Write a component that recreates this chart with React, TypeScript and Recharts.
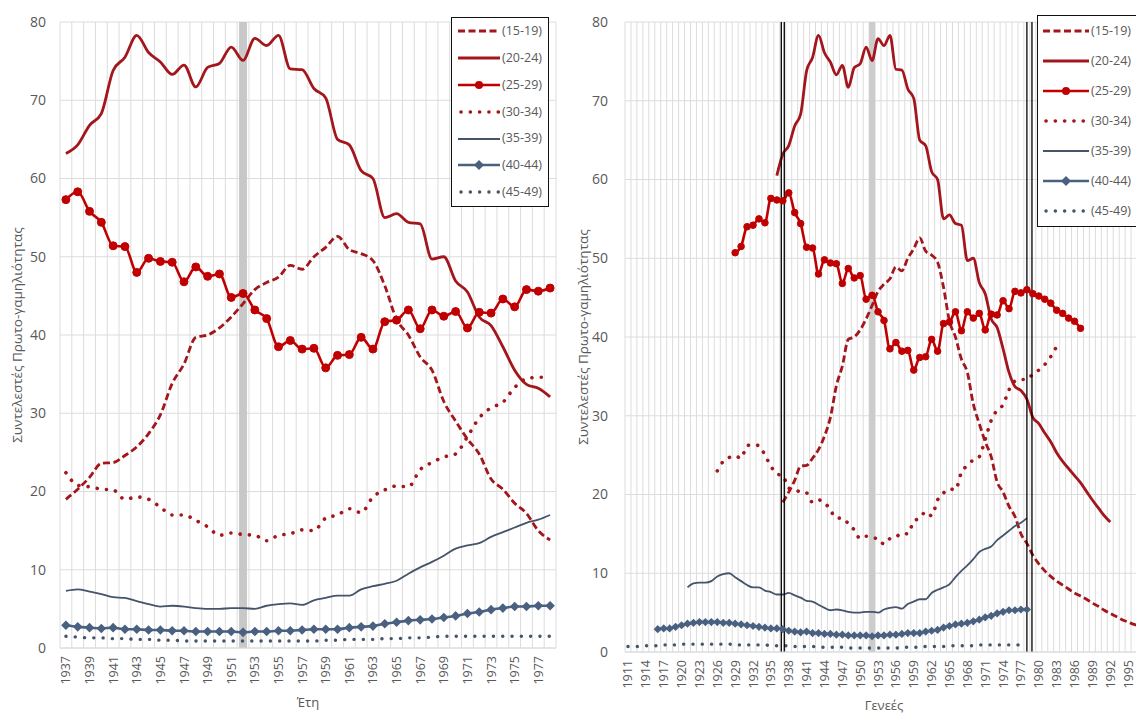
import { CartesianGrid, Legend, Line, LineChart, ReferenceLine, XAxis, YAxis } from "recharts";

// ---- left panel: calendar years 1937-1978 ----
const YEARS = Array.from({ length: 42 }, (_, i) => 1937 + i);
const LEFT_TICKS = [1937, 1939, 1941, 1943, 1945, 1947, 1949, 1951, 1953, 1955, 1957, 1959, 1961, 1963, 1965, 1967, 1969, 1971, 1973, 1975, 1977];
const Y_TICKS = [0, 10, 20, 30, 40, 50, 60, 70, 80];

const L15_19 = [19.0, 20.3, 21.8, 23.6, 23.7, 24.6, 25.7, 27.4, 29.8, 33.8, 36.3, 39.7, 40.0, 40.9, 42.3, 44.0, 45.8, 46.7, 47.4, 48.9, 48.4, 50.0, 51.2, 52.6, 50.9, 50.4, 49.5, 46.3, 42.0, 40.0, 37.2, 35.5, 31.5, 29.0, 26.7, 24.8, 21.6, 20.3, 18.5, 17.2, 15.0, 13.8];
const L20_24 = [63.2, 64.3, 66.8, 68.3, 73.8, 75.5, 78.3, 76.1, 74.9, 73.3, 74.5, 71.7, 74.2, 74.7, 76.8, 75.1, 77.9, 77.0, 78.3, 74.0, 73.9, 71.5, 70.3, 65.0, 64.3, 61.0, 60.0, 55.0, 55.5, 54.4, 54.2, 49.7, 50.0, 46.9, 45.5, 42.3, 41.2, 38.5, 35.5, 33.7, 33.2, 32.1];
const L25_29 = [57.3, 58.3, 55.8, 54.4, 51.4, 51.3, 48.0, 49.8, 49.4, 49.3, 46.8, 48.7, 47.5, 47.8, 44.8, 45.3, 43.2, 42.1, 38.5, 39.3, 38.2, 38.3, 35.8, 37.4, 37.5, 39.7, 38.2, 41.7, 41.9, 43.2, 40.8, 43.2, 42.4, 43.0, 40.9, 42.9, 42.8, 44.6, 43.6, 45.8, 45.6, 46.0];
const L30_34 = [22.4, 20.8, 20.6, 20.3, 20.2, 19.0, 19.3, 19.0, 18.0, 17.0, 17.0, 16.3, 15.5, 14.4, 14.7, 14.5, 14.4, 13.7, 14.4, 14.6, 15.1, 15.0, 16.6, 17.0, 17.8, 17.3, 19.3, 20.2, 20.7, 20.6, 22.8, 23.7, 24.4, 24.8, 27.0, 29.4, 30.7, 31.4, 33.3, 34.4, 34.6, 34.6];
const L35_39 = [7.3, 7.5, 7.2, 6.9, 6.5, 6.4, 6.0, 5.6, 5.3, 5.4, 5.3, 5.1, 5.0, 5.0, 5.1, 5.1, 5.0, 5.4, 5.6, 5.7, 5.5, 6.1, 6.4, 6.7, 6.7, 7.5, 7.9, 8.2, 8.6, 9.5, 10.3, 11.0, 11.8, 12.7, 13.1, 13.4, 14.2, 14.8, 15.4, 16.0, 16.4, 17.0];
const L40_44 = [2.9, 2.7, 2.6, 2.5, 2.6, 2.4, 2.4, 2.3, 2.3, 2.2, 2.2, 2.1, 2.1, 2.1, 2.1, 2.0, 2.1, 2.1, 2.2, 2.2, 2.3, 2.4, 2.4, 2.4, 2.6, 2.7, 2.8, 3.1, 3.3, 3.5, 3.6, 3.7, 3.9, 4.1, 4.4, 4.6, 4.9, 5.1, 5.3, 5.3, 5.4, 5.4];
const L45_49 = [1.5, 1.4, 1.3, 1.3, 1.2, 1.2, 1.1, 1.1, 1.0, 1.0, 0.9, 0.9, 0.9, 0.9, 0.9, 0.9, 0.9, 0.9, 0.9, 0.9, 0.9, 0.9, 1.0, 1.0, 1.1, 1.1, 1.1, 1.2, 1.2, 1.3, 1.3, 1.4, 1.5, 1.5, 1.5, 1.5, 1.5, 1.5, 1.5, 1.5, 1.5, 1.5];

// ---- right panel: cohorts 1911-1997 (1937-1978 shared with the left panel) ----
const COHORTS = Array.from({ length: 87 }, (_, i) => 1911 + i);
const RIGHT_TICKS = [1911, 1914, 1917, 1920, 1923, 1926, 1929, 1932, 1935, 1938, 1941, 1944, 1947, 1950, 1953, 1956, 1959, 1962, 1965, 1968, 1971, 1974, 1977, 1980, 1983, 1986, 1989, 1992, 1995];

const C15_19_AFTER = [12.3, 11.2, 10.3, 9.6, 9.0, 8.5, 8.0, 7.5, 7.1, 6.7, 6.2, 5.8, 5.3, 4.9, 4.5, 4.1, 3.8, 3.5, 3.3]; // 1979-
const C20_24_BEFORE = [60.5]; // 1936
const C20_24_AFTER = [29.8, 29.0, 27.8, 26.7, 25.3, 24.2, 23.3, 22.4, 21.5, 20.4, 19.3, 18.3, 17.3, 16.5]; // 1979-1992
const C25_29_BEFORE = [50.7, 51.5, 54.0, 54.2, 55.0, 54.5, 57.6, 57.4]; // 1929-1936
const C25_29_AFTER = [45.5, 45.2, 44.8, 44.3, 43.4, 43.0, 42.4, 42.0, 41.1]; // 1979-1987
const C30_34_BEFORE = [23.0, 24.2, 24.7, 24.9, 24.6, 26.2, 26.3, 26.2, 25.0, 23.6, 22.6]; // 1926-1936
const C30_34_AFTER = [35.3, 35.8, 36.5, 37.5, 38.8]; // 1979-1983
const C35_39_BEFORE = [8.2, 8.7, 8.8, 8.8, 9.0, 9.6, 9.9, 10.0, 9.5, 9.0, 8.5, 8.2, 8.2, 7.8, 7.6, 7.3]; // 1921-1936
const C40_44_BEFORE = [2.9, 3.0, 3.0, 3.2, 3.4, 3.6, 3.7, 3.8, 3.8, 3.8, 3.8, 3.7, 3.7, 3.6, 3.5, 3.4, 3.3, 3.2, 3.1, 3.0, 3.0]; // 1916-1936
const C45_49 = [0.7, 0.7, 0.7, 0.8, 0.8, 0.8, 0.9, 0.9, 0.9, 1.0, 1.0, 1.0, 1.0, 1.0, 1.0, 1.0, 1.0, 1.0, 0.9, 0.9, 0.9, 0.9, 0.9, 0.9, 0.8, 0.8, 0.8, 0.8, 0.7, 0.7, 0.7, 0.7, 0.6, 0.6, 0.6, 0.6, 0.6, 0.5, 0.5, 0.5, 0.5, 0.5, 0.5, 0.5, 0.5, 0.5, 0.6, 0.6, 0.6, 0.6, 0.7, 0.7, 0.7, 0.7, 0.8, 0.8, 0.8, 0.8, 0.8, 0.9, 0.9, 0.9, 0.9, 0.9, 0.9, 0.9, 0.9]; // 1911-1977

// double marker lines on the cohort panel
const MARK_LINES = [1936.75, 1937.25, 1978.0, 1978.85];

const FONT = "'Open Sans', 'Liberation Sans', sans-serif";
const TEXT = "#595959";
const GRID = "#dcdcdc";
const RED = "#a3161c";
const RED_MARK = "#c00000";
const SLATE = "#44546a";
const SLATE_MARK = "#4a6080";

const SERIES = [
  { key: "a15", name: "(15-19)", color: RED, width: 2.8, dash: "7 3.5" },
  { key: "a20", name: "(20-24)", color: RED, width: 2.8 },
  { key: "a25", name: "(25-29)", color: RED_MARK, width: 2.6, marker: "circle" },
  { key: "a30", name: "(30-34)", color: RED, width: 3.6, dash: "0.1 9.2", cap: "round" },
  { key: "a35", name: "(35-39)", color: SLATE, width: 1.8 },
  { key: "a40", name: "(40-44)", color: SLATE_MARK, width: 2.6, marker: "diamond" },
  { key: "a45", name: "(45-49)", color: SLATE, width: 3.4, dash: "0.1 9.2", cap: "round" },
];

const leftRows = YEARS.map((year, i) => ({
  year,
  a15: L15_19[i],
  a20: L20_24[i],
  a25: L25_29[i],
  a30: L30_34[i],
  a35: L35_39[i],
  a40: L40_44[i],
  a45: L45_49[i],
}));

function pick(year: number, start: number, arr: number[]) {
  const i = year - start;
  return i >= 0 && i < arr.length ? arr[i] : undefined;
}

function joined(year: number, before: number[], beforeStart: number, main: number[], after: number[]) {
  return pick(year, beforeStart, before) ?? pick(year, 1937, main) ?? pick(year, 1979, after) ?? null;
}

const rightRows = COHORTS.map((year) => ({
  year,
  a15: joined(year, [], 1937, L15_19, C15_19_AFTER),
  a20: joined(year, C20_24_BEFORE, 1936, L20_24, C20_24_AFTER),
  a25: joined(year, C25_29_BEFORE, 1929, L25_29, C25_29_AFTER),
  a30: joined(year, C30_34_BEFORE, 1926, L30_34, C30_34_AFTER),
  a35: joined(year, C35_39_BEFORE, 1921, L35_39, []),
  a40: joined(year, C40_44_BEFORE, 1916, L40_44, []),
  a45: pick(year, 1911, C45_49) ?? null,
}));

const LEFT_GRID = Array.from({ length: 43 }, (_, i) => 1936.5 + i);
const RIGHT_GRID = Array.from({ length: 88 }, (_, i) => 1910.5 + i);

function makeDot(kind: string | undefined, color: string, size: number) {
  if (!kind) return false;
  return (p: any) => {
    const { cx, cy, index } = p;
    if (cx == null || cy == null) return <g key={index} />;
    if (kind === "circle") return <circle key={index} cx={cx} cy={cy} r={size} fill={color} stroke={color} />;
    return (
      <path
        key={index}
        d={`M${cx},${cy - size}L${cx + size},${cy}L${cx},${cy + size}L${cx - size},${cy}Z`}
        fill={color}
      />
    );
  };
}

const YearTick = ({ x, y, payload }: any) => (
  <text
    transform={`translate(${x},${y}) rotate(-90)`}
    textAnchor="end"
    dominantBaseline="central"
    fontSize={12.5}
    fontFamily={FONT}
    fill={TEXT}
  >
    {payload.value}
  </text>
);

function LegendBox({ rowH, sample, left }: { rowH: number; sample: number; left: number }) {
  return (
    <div
      style={{
        border: "1.6px solid #111",
        background: "#fff",
        paddingLeft: left,
        paddingRight: 6,
        fontFamily: FONT,
        fontSize: 12.5,
        color: TEXT,
        lineHeight: 1,
      }}
    >
      {SERIES.map((s) => (
        <div key={s.key} style={{ display: "flex", alignItems: "center", height: rowH }}>
          <svg width={sample} height={12} style={{ display: "block" }}>
            <line
              x1={s.cap ? 3 : 0}
              y1={6}
              x2={sample}
              y2={6}
              stroke={s.color}
              strokeWidth={s.width}
              strokeDasharray={s.dash}
              strokeLinecap={(s.cap as any) || "butt"}
            />
            {s.marker === "circle" && <circle cx={sample / 2} cy={6} r={4} fill={s.color} />}
            {s.marker === "diamond" && (
              <path d={`M${sample / 2},1L${sample / 2 + 5},6L${sample / 2},11L${sample / 2 - 5},6Z`} fill={s.color} />
            )}
          </svg>
          <span style={{ marginLeft: 2, whiteSpace: "nowrap" }}>{s.name}</span>
        </div>
      ))}
    </div>
  );
}

const Y_LABEL = "Συντελεστές Πρωτο-γαμηλιότητας";

function renderLines(markerSize: number) {
  return SERIES.map((s) => (
    <Line
      key={s.key}
      type="monotone"
      dataKey={s.key}
      name={s.name}
      stroke={s.color}
      strokeWidth={s.width}
      strokeDasharray={s.dash}
      strokeLinecap={(s.cap as any) || "butt"}
      dot={makeDot(s.marker, s.color, s.marker === "diamond" ? markerSize + 0.8 : markerSize) as any}
      activeDot={false}
      isAnimationActive={false}
      legendType="none"
    />
  ));
}

function LeftChart() {
  return (
    <LineChart width={570} height={713} data={leftRows} margin={{ top: 22, right: 14, left: 8, bottom: 0 }}>
      <CartesianGrid stroke={GRID} verticalValues={LEFT_GRID} horizontalValues={Y_TICKS} />
      <ReferenceLine x={1952} stroke="#c8c8c8" strokeWidth={8} />
      <XAxis
        dataKey="year"
        type="number"
        domain={[1936.5, 1978.5]}
        ticks={LEFT_TICKS}
        interval={0}
        height={65}
        tick={<YearTick />}
        tickLine={false}
        axisLine={{ stroke: GRID }}
        label={{ value: "Έτη", position: "insideBottom", offset: 6, fill: TEXT, fontSize: 13, fontFamily: FONT }}
      />
      <YAxis
        domain={[0, 80]}
        ticks={Y_TICKS}
        width={52}
        axisLine={false}
        tickLine={false}
        tickMargin={8}
        tick={{ fontSize: 14, fill: TEXT, fontFamily: FONT }}
        label={{ value: Y_LABEL, angle: -90, position: "insideLeft", offset: 9, fill: TEXT, fontSize: 13.5, fontFamily: FONT, style: { textAnchor: "middle" } }}
      />
      {renderLines(4)}
      <Legend
        layout="vertical"
        align="center"
        verticalAlign="middle"
        wrapperStyle={{ left: 451, top: 17, width: "auto", height: "auto" }}
        content={() => <LegendBox rowH={26.8} sample={42} left={6} />}
      />
    </LineChart>
  );
}

function RightChart() {
  return (
    <LineChart width={580} height={713} data={rightRows} margin={{ top: 22, right: 2, left: 0, bottom: 0 }}>
      <CartesianGrid stroke={GRID} verticalValues={RIGHT_GRID} horizontalValues={Y_TICKS} />
      <ReferenceLine x={1952} stroke="#cccccc" strokeWidth={6} />
      <XAxis
        dataKey="year"
        type="number"
        domain={[1910.5, 1997.5]}
        ticks={RIGHT_TICKS}
        interval={0}
        height={61}
        tick={<YearTick />}
        tickLine={false}
        axisLine={{ stroke: GRID }}
        label={{ value: "Γενεές", position: "insideBottom", offset: 3, fill: TEXT, fontSize: 13, fontFamily: FONT }}
      />
      <YAxis
        domain={[0, 80]}
        ticks={Y_TICKS}
        width={60}
        axisLine={false}
        tickLine={false}
        tickMargin={11}
        tick={{ fontSize: 14, fill: TEXT, fontFamily: FONT }}
        label={{ value: Y_LABEL, angle: -90, position: "insideLeft", offset: 18, fill: TEXT, fontSize: 13.5, fontFamily: FONT, style: { textAnchor: "middle" } }}
      />
      {renderLines(3.3)}
      {MARK_LINES.map((x) => (
        <ReferenceLine key={x} x={x} stroke="#000" strokeWidth={1.3} />
      ))}
      <Legend
        layout="vertical"
        align="center"
        verticalAlign="middle"
        wrapperStyle={{ left: 472, top: 15, width: "auto", height: "auto" }}
        content={() => <LegendBox rowH={30} sample={46} left={5} />}
      />
    </LineChart>
  );
}

export default function App() {
  return (
    <div style={{ position: "relative", width: 1136, height: 713, overflow: "hidden", background: "#fff" }}>
      <style>{"body{margin:0;overflow:hidden}"}</style>
      <div style={{ position: "absolute", left: 0, top: 0 }}>
        <LeftChart />
      </div>
      <div style={{ position: "absolute", left: 565, top: 0 }}>
        <RightChart />
      </div>
    </div>
  );
}
